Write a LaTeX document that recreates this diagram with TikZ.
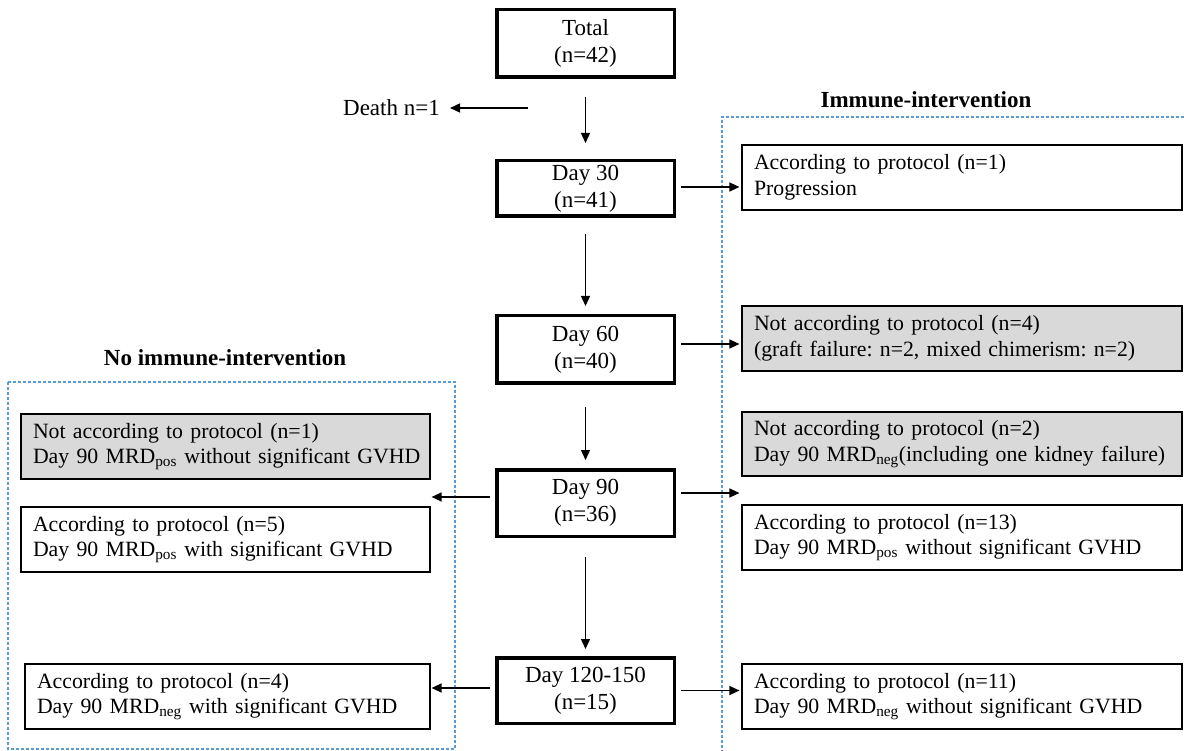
\documentclass[tikz,border=0pt]{standalone}
\usepackage{fontspec}
\setmainfont{Liberation Serif}
\usetikzlibrary{arrows.meta,calc}
\definecolor{dashblue}{RGB}{91,155,213}
\definecolor{boxgray}{RGB}{217,217,217}
\newcommand{\twolines}[2]{\mbox{#1}\\\mbox{#2}}
\frenchspacing
\begin{document}
\frenchspacing
\begin{tikzpicture}[x=1pt,y=-1pt,
  mainbox/.style={draw,line width=3.5pt,minimum width=177.5pt,align=center,font=\fontsize{23}{27}\selectfont,inner sep=0pt},
  sidebox/.style={draw,line width=1.2pt,align=left,inner xsep=12pt,inner ysep=0pt,font=\fontsize{21.8}{25.5}\selectfont\frenchspacing,minimum height=65pt},
  graybox/.style={sidebox,fill=boxgray},
  arr/.style={line width=1.4pt,-{Triangle[length=10pt,width=9pt]}},
  region/.style={draw=dashblue,line width=1.3pt,dash pattern=on 3pt off 2pt},
  title/.style={font=\fontsize{23}{27}\selectfont\bfseries,inner sep=0pt}
]
\useasboundingbox (0,0) rectangle (1184,751);

% dashed regions
\coordinate (rtl) at (722,117);
\coordinate (rtr) at (1184,117);
\coordinate (rbl) at (722,751);
\draw[region] (rtr) -- (rtl) -- (rbl);
\coordinate (lnw) at (8,382);
\coordinate (lse) at (455,749);
\draw[region] (lnw) rectangle (lse);

% titles
\node[title] (tright) at (926,100) {Immune-intervention};
\node[title] (tleft) at (225,358) {No immune-intervention};

% main column
\node[mainbox,minimum height=67.5pt] (total) at (585.5,43.5) {Total\\(n=42)};
\node[mainbox,minimum height=55.5pt] (d30) at (585.5,188.5) {Day 30\\(n=41)};
\node[mainbox,minimum height=67.5pt] (d60) at (585.5,349.5) {Day 60\\(n=40)};
\node[mainbox,minimum height=66.5pt] (d90) at (585.5,503) {Day 90\\(n=36)};
\node[mainbox,minimum height=65.5pt] (d120) at (585.5,690.5) {Day 120-150\\(n=15)};

% death
\node[font=\fontsize{23}{27}\selectfont,anchor=east,inner xsep=10pt,inner ysep=0pt] (death) at (450,108) {Death n=1};
\coordinate (dstart) at (528,108);
\draw[arr] (dstart) -- (death);

% right boxes
\node[sidebox,text width=416pt] (r1) at (962,177.5) {\twolines{According to protocol (n=1)}{Progression}};
\node[graybox,text width=416pt] (r2) at (962,338.5) {\twolines{Not according to protocol (n=4)}{(graft failure: n=2, mixed chimerism: n=2)}};
\node[graybox,text width=416pt,minimum height=64pt] (r3) at (962,444) {\twolines{Not according to protocol (n=2)}{Day 90 MRD\textsubscript{neg}(including one kidney failure)}};
\node[sidebox,text width=416pt] (r4) at (962,537.5) {\twolines{According to protocol (n=13)}{Day 90 MRD\textsubscript{pos} without significant GVHD}};
\node[sidebox,text width=416pt] (r5) at (962,696.5) {\twolines{According to protocol (n=11)}{Day 90 MRD\textsubscript{neg} without significant GVHD}};

% left boxes
\node[graybox,text width=385pt] (l1) at (225.5,446.5) {\twolines{Not according to protocol (n=1)}{Day 90 MRD\textsubscript{pos} without significant GVHD}};
\node[sidebox,text width=385pt] (l2) at (225.5,539.5) {\twolines{According to protocol (n=5)}{Day 90 MRD\textsubscript{pos} with significant GVHD}};
\node[sidebox,text width=381pt] (l3) at (227.5,696.5) {\twolines{According to protocol (n=4)}{Day 90 MRD\textsubscript{neg} with significant GVHD}};

% vertical arrows
\draw[arr,shorten <=18pt,shorten >=16pt] (total) -- (d30);
\draw[arr,shorten <=16pt,shorten >=8pt] (d30) -- (d60);
\draw[arr,shorten <=22pt,shorten >=8pt] (d60) -- (d90);
\draw[arr,shorten <=19pt,shorten >=7pt] (d90) -- (d120);

% horizontal arrows right
\draw[arr,shorten <=5pt,shorten >=2pt] ($(d30.east)+(0,-1.5)$) -- ($(d30.east -| r1.west)+(0,-1.5)$);
\draw[arr,shorten <=5pt,shorten >=2pt] ($(d60.east)+(0,-5.5)$) -- ($(d60.east -| r2.west)+(0,-5.5)$);
\draw[arr,shorten <=5pt,shorten >=2pt] ($(d90.east)+(0,-10)$) -- ($(d90.east -| r4.west)+(0,-10)$);
\draw[arr,shorten <=5pt,shorten >=2pt] (d120.east) -- (d120.east -| r5.west);

% horizontal arrows left
\draw[arr,shorten <=5pt,shorten >=1pt] ($(d90.west)+(0,-6)$) -- ($(d90.west -| l2.east)+(0,-6)$);
\draw[arr,shorten <=5pt,shorten >=1pt] ($(d120.west)+(0,-2.5)$) -- ($(d120.west -| l3.east)+(0,-2.5)$);
\end{tikzpicture}
\end{document}
